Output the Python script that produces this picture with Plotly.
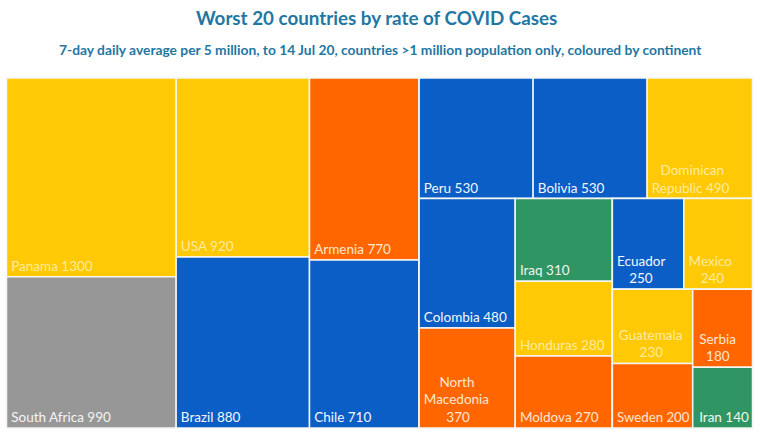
import plotly.graph_objects as go

# Countries and their values
countries = ["Panama", "South Africa", "USA", "Brazil", "Armenia", "Chile",
             "Peru", "Bolivia", "Dominican Republic", "Colombia", "North Macedonia",
             "Iraq", "Honduras", "Moldova", "Ecuador", "Mexico",
             "Guatemala", "Sweden", "Serbia", "Iran"]
values = [1300, 990, 920, 880, 770, 710, 530, 530, 490, 480, 370,
          310, 280, 270, 250, 240, 230, 200, 180, 140]
continents = ["NA", "AF", "NA", "SA", "EU", "SA", "SA", "SA", "NA", "SA", "EU",
              "AS", "NA", "EU", "SA", "NA", "NA", "EU", "EU", "AS"]
tile_labels = ["\u2009Panama 1300", "\u2009South Africa 990", "\u2009USA 920", "\u2009Brazil 880",
               "\u2009Armenia 770", "\u2009Chile 710", "\u2009Peru 530", "\u2009Bolivia 530",
               "   Dominican<br>\u2009Republic 490", "\u2009Colombia 480",
               "     North<br>\u2009Macedonia<br>       370",
               "\u2009Iraq 310", "\u2009Honduras 280", "\u2009Moldova 270",
               "\u2009Ecuador<br>    250", "\u2009Mexico<br>    240",
               " Guatemala<br>       230", "\u2009Sweden 200", " Serbia<br>   180", " Iran 140"]
# Nesting of tiles (groups alternate between columns and rows)
parents_of = ["c1", "c1", "c2", "c2", "c3", "c3",
              "rtop", "rtop", "rtop", "ba", "ba",
              "bb", "bb", "bb", "ctop", "ctop",
              "cg", "cg", "cs", "cs"]
groups = ["c1", "c2", "c3", "right", "rtop", "rbot", "ba", "bb", "bc", "ctop", "cbot", "cg", "cs"]
group_parents = ["", "", "", "", "right", "right", "rbot", "rbot", "rbot", "bc", "bc", "cbot", "cbot"]
continent_colors = {"NA": "#FFC905", "SA": "#0B5EC6", "EU": "#FF6600", "AF": "#979797", "AS": "#2F9562"}
label_colors = {"NA": "#FFEBA0", "SA": "#F4F8FC", "EU": "#FFE6D2", "AF": "#F4F4F4", "AS": "#F0F6F2"}

val = dict(zip(countries, values))
totals = {g: 0 for g in groups}
for c, p in zip(countries, parents_of):
    g = p
    while g:
        totals[g] += val[c]
        g = group_parents[groups.index(g)]

fig = go.Figure(go.Treemap(
    ids=countries + groups,
    labels=countries + groups,
    parents=parents_of + group_parents,
    values=values + [totals[g] for g in groups],
    text=tile_labels + [""] * len(groups),
    branchvalues="total",
    sort=False,
    textinfo="text",
    textposition="bottom left",
    hoverinfo="text",
    tiling=dict(packing="slice-dice", pad=0),
    pathbar=dict(visible=False),
    marker=dict(
        colors=[continent_colors[c] for c in continents] + ["rgba(255,255,255,0)"] * len(groups),
        line=dict(color="#F4F6F4", width=1.5),
        pad=dict(t=0, l=0, r=0, b=0),
    ),
    textfont=dict(color=[label_colors[c] for c in continents] + ["#FFFFFF"] * len(groups),
                  size=13.5, family="Lato"),
    domain=dict(x=[6.5 / 760, 752.5 / 760], y=[6 / 434, 356 / 434]),
))
fig.update_layout(
    width=760, height=434,
    margin=dict(l=0, r=0, t=0, b=0),
    paper_bgcolor="white",
    font=dict(family="Lato"),
    annotations=[
        dict(text="<b>Worst 20 countries by rate of COVID Cases</b>", x=376 / 760, y=417 / 434,
             xref="paper", yref="paper", showarrow=False, xanchor="center", yanchor="middle",
             font=dict(size=18.8, color="#1F77A3", family="Lato")),
        dict(text="<b>7-day daily average per 5 million, to 14 Jul 20, countries &gt;1 million population only, coloured by continent</b>",
             x=380 / 760, y=384 / 434, xref="paper", yref="paper", showarrow=False,
             xanchor="center", yanchor="middle",
             font=dict(size=13.8, color="#1F77A3", family="Lato")),
    ],
)
fig.write_html("out.html", post_script="document.body.style.margin='0';",
               config={"displayModeBar": False})
